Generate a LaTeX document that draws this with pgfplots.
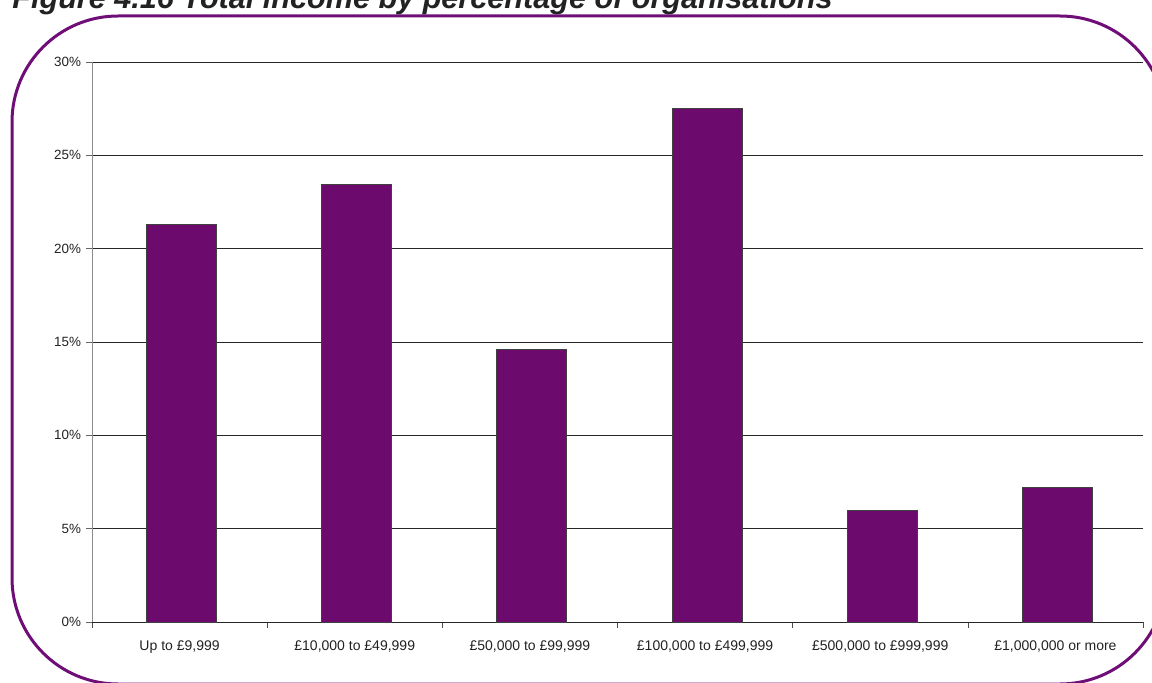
\documentclass[border=0pt]{standalone}
\usepackage{pgfplots}
\pgfplotsset{compat=1.18}
\usepackage{fontspec}
\setmainfont{Liberation Sans}
\definecolor{barpurple}{RGB}{108,10,110}
\definecolor{framepurple}{RGB}{112,14,120}
\definecolor{txt}{RGB}{34,34,34}
\begin{document}
\begin{tikzpicture}[x=0.5pt,y=0.5pt]
\clip (0,0) rectangle (1152,682);
\path[use as bounding box] (0,0) rectangle (1152,682);
% title
\node[anchor=base west,inner sep=0pt,font=\fontsize{15.3}{17}\selectfont\bfseries\itshape,text=txt] at (12,673) {Figure 4.16 Total income by percentage of organisations};
% frame
\draw[framepurple,line width=1.5pt,rounded corners=53pt] (12,-2) rectangle (1166,666);
\begin{axis}[
  at={(46pt,30pt)}, anchor=south west,
  scale only axis, width=525.5pt, height=280pt,
  xmin=0, xmax=6, ymin=0, ymax=30,
  axis lines=left,
  axis line style={-},
  x axis line style={black!85},
  y axis line style={black!45},
  xtick={0.5,1.5,...,5.5},
  xticklabels={{Up to £9,999}, {£10,000 to £49,999}, {£50,000 to £99,999}, {£100,000 to £499,999}, {£500,000 to £999,999}, {£1,000,000 or more}},
  minor xtick={0,1,...,6},
  ytick={0,5,...,30},
  yticklabels={0\%,5\%,10\%,15\%,20\%,25\%,30\%},
  ymajorgrids,
  grid style={black!85, line width=0.5pt},
  major x tick style={draw=none},
  minor x tick style={black!70},
  y tick style={black!60},
  tick align=outside,
  major tick length=3pt,
  minor tick length=3pt,
  tick label style={text=txt},
  xticklabel style={font=\fontsize{7}{8}\selectfont, yshift=-3pt},
  yticklabel style={font=\fontsize{6.7}{8}\selectfont, xshift=1pt},
  clip=false,
]
\addplot[ybar, bar width=35pt, fill=barpurple, draw=black!75, line width=0.5pt, bar shift=1pt]
coordinates {(0.5,21.27) (1.5,23.46) (2.5,14.62) (3.5,27.53) (4.5,5.95) (5.5,7.23)};
\end{axis}
\end{tikzpicture}
\end{document}
